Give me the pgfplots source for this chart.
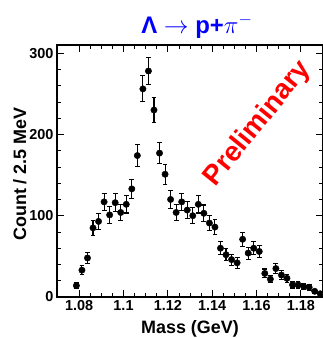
\documentclass[border=0pt]{standalone}
\usepackage{fontspec}
\setmainfont{Liberation Sans}
\usepackage{pgfplots}
\usepackage{pgfplotstable}
\pgfplotsset{compat=1.18}

% invariant-mass spectrum, 2.5 MeV bins: bin centre, counts, statistical error
\pgfplotstableread{
m        n    e
1.07875  14   3.74
1.08125  33   5.74
1.08375  48   6.93
1.08625  85   9.22
1.08875  93   9.64
1.09125  117  10.82
1.09375  101  10.05
1.09625  116  10.77
1.09875  104  10.20
1.10125  114  10.68
1.10375  133  11.53
1.10625  174  13.19
1.10875  256  16.00
1.11125  278  16.67
1.11375  230  15.17
1.11625  177  13.30
1.11875  151  12.29
1.12125  120  10.95
1.12375  104  10.20
1.12625  117  10.82
1.12875  107  10.34
1.13125  100  10.00
1.13375  114  10.68
1.13625  103  10.15
1.13875  91   9.54
1.14125  86   9.27
1.14375  60   7.75
1.14625  52   7.21
1.14875  46   6.78
1.15125  42   6.48
1.15375  71   8.43
1.15625  54   7.35
1.15875  60   7.75
1.16125  56   7.48
1.16375  29   5.39
1.16625  22   4.69
1.16875  35   5.92
1.17125  27   5.20
1.17375  23   4.80
1.17625  15   3.87
1.17875  15   3.87
1.18125  13   3.61
1.18375  12   3.46
1.18625  7    2.65
1.18875  4    2.00
}\spectrum

\begin{document}
\begin{tikzpicture}
\begin{axis}[
  scale only axis,
  width=266bp, height=252bp,
  xmin=1.07, xmax=1.19,
  ymin=0, ymax=310,
  xtick={1.08,1.10,...,1.181},
  ytick={0,100,200,300},
  minor x tick num=3,
  minor y tick num=4,
  tick align=inside,
  tick pos=both,
  major tick length=7bp,
  minor tick length=4bp,
  every tick/.style={black, line width=0.8bp},
  axis line style={black, line width=1.1bp},
  scaled x ticks=false,
  xticklabel style={/pgf/number format/fixed, /pgf/number format/precision=2},
  /pgf/number format/assume math mode=true,
  ticklabel style={font=\bfseries\fontsize{14.5}{16}\selectfont},
  xlabel={Mass (GeV)},
  ylabel={Count / 2.5 MeV},
  label style={font=\bfseries\fontsize{18}{20}\selectfont},
  xlabel style={at={(axis description cs:0.5,0)}, anchor=base, yshift=-36bp},
  ylabel style={at={(axis description cs:-0.1165,0.488)}, anchor=base},
  title={\textbf{Λ} $\rightarrow$ \textbf{p+}$\pi^{-}$},
  title style={font=\fontsize{24}{26}\selectfont, text=blue,
    at={(axis description cs:0.526,1)}, anchor=base, yshift=6bp},
]
\addplot[black, only marks, mark=*, mark size=3.2bp,
  error bars/.cd, y dir=both, y explicit,
  error bar style={line width=1.1bp, black},
  error mark options={rotate=90, mark size=2.4bp, line width=1.1bp, black}]
  table[x=m, y=n, y error=e]{\spectrum};
\node[rotate=51, text=red, font=\bfseries\fontsize{28}{29}\selectfont]
  at (axis cs:1.1606,213) {Preliminary};
\end{axis}
\pgfresetboundingbox
\path (-57bp,-41bp) rectangle (266bp,297bp);
\end{tikzpicture}
\end{document}
